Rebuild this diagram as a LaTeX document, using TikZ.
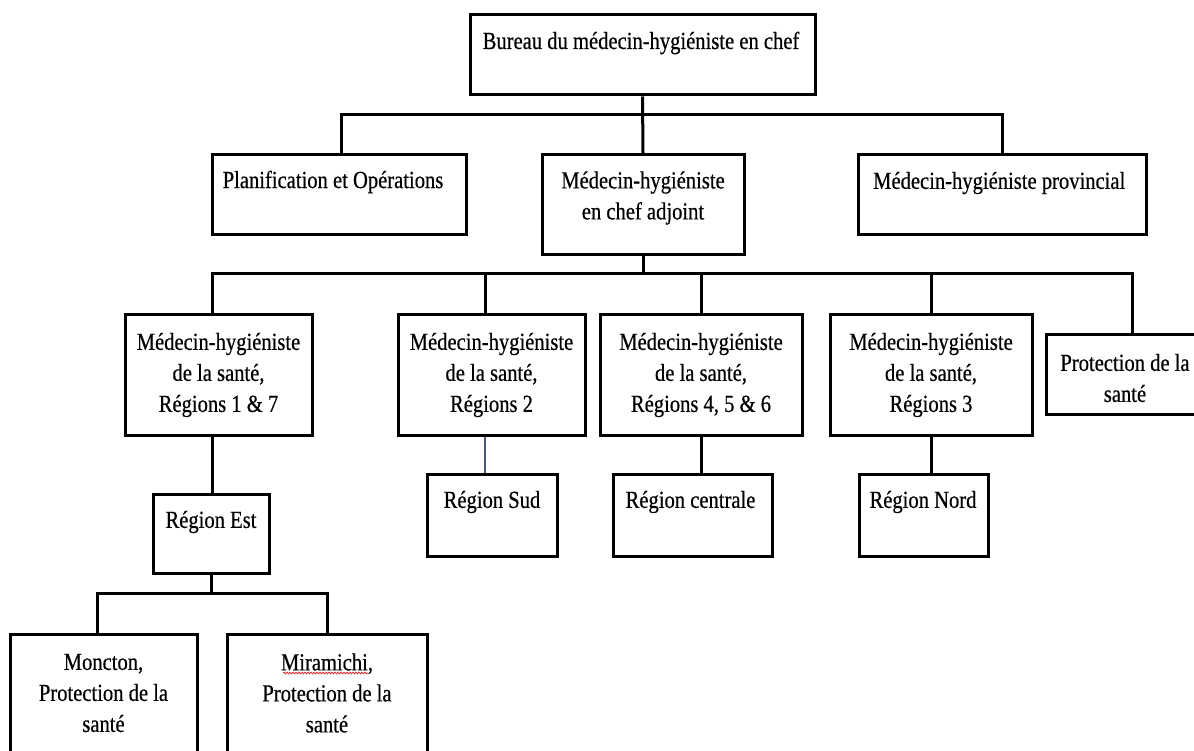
\documentclass[tikz,border=0pt]{standalone}
\usepackage{fontspec}
\setmainfont{Liberation Serif}[FakeStretch=0.84, FakeBold=0.5]
\usetikzlibrary{decorations.pathmorphing}
\definecolor{thinwire}{RGB}{74,90,112}
\definecolor{spellred}{RGB}{220,40,40}
\begin{document}
\begin{tikzpicture}[x=1pt,y=-1pt,
  box/.style={draw=black, line width=3pt, rectangle, inner sep=0pt},
  lbl/.style={font=\fontsize{24.5}{31}\selectfont, align=center, inner sep=0pt},
  wire/.style={line width=3pt, line join=miter}]
\useasboundingbox (0,0) rectangle (1194,751);
\clip (0,0) rectangle (1194,751);
% boxes
\node[box, minimum width=345pt, minimum height=80pt]  (top)  at (642.5,55) {};
\node[box, minimum width=254pt, minimum height=80pt]  (planif) at (339,195) {};
\node[box, minimum width=202pt, minimum height=100pt] (adj) at (643,205) {};
\node[box, minimum width=288pt, minimum height=80pt]  (prov) at (1002,195) {};
\node[box, minimum width=187pt, minimum height=120pt] (r17) at (218.5,375) {};
\node[box, minimum width=187pt, minimum height=120pt] (r2) at (491.5,375) {};
\node[box, minimum width=202pt, minimum height=120pt] (r456) at (701,375) {};
\node[box, minimum width=202pt, minimum height=120pt] (r3) at (931,375) {};
\node[box, minimum width=158pt, minimum height=80pt]  (prot) at (1125,374) {};
\node[box, minimum width=116pt, minimum height=79pt]  (est) at (211,533.5) {};
\node[box, minimum width=130pt, minimum height=82pt]  (sud) at (492,515) {};
\node[box, minimum width=159pt, minimum height=82pt]  (cent) at (692.5,515) {};
\node[box, minimum width=129pt, minimum height=82pt]  (nord) at (923.5,515) {};
\node[box, minimum width=187pt, minimum height=146pt] (monc) at (103.5,707) {};
\node[box, minimum width=200pt, minimum height=146pt] (mira) at (327,707) {};
% bus levels
\coordinate (b1) at (0,115);
\coordinate (b2) at (0,274);
\coordinate (b3) at (0,593);
% connectors
\draw[wire] (top.south) -- (adj.north);
\draw[wire] ([xshift=2pt]planif.north) -- ([xshift=2pt]planif.north |- b1) -- (prov.north |- b1) -- (prov.north);
\draw[wire] (adj.south) -- (adj.south |- b2);
\draw[wire] ([xshift=-6.5pt]r17.north) -- ([xshift=-6.5pt]r17.north |- b2) -- ([xshift=7pt]prot.north |- b2) -- ([xshift=7pt]prot.north);
\draw[wire] ([xshift=-6.5pt]r2.north) -- ([xshift=-6.5pt]r2.north |- b2);
\draw[wire] (r456.north) -- (r456.north |- b2);
\draw[wire] (r3.north) -- (r3.north |- b2);
\draw[wire] ([xshift=-6.5pt]r17.south) -- ([xshift=-6.5pt]r17.south |- est.north);
\draw[line width=1.5pt, thinwire] ([xshift=-6.5pt]r2.south) -- ([xshift=-6.5pt]r2.south |- sud.north);
\draw[wire] (r456.south) -- (r456.south |- cent.north);
\draw[wire] (r3.south) -- (r3.south |- nord.north);
\draw[wire] (est.south) -- (est.south |- b3);
\draw[wire] ([xshift=-6.5pt]monc.north) -- ([xshift=-6.5pt]monc.north |- b3) -- (mira.north |- b3) -- (mira.north);
% texts
\node[lbl] (t-top) at (641,43) {Bureau du médecin-hygiéniste en chef};
\node[lbl] (t-planif) at (333,182) {Planification et Opérations};
\node[lbl] (t-adj) at (643,198) {Médecin-hygiéniste\\en chef adjoint};
\node[lbl, anchor=west] (t-prov) at (873,183) {Médecin-hygiéniste provincial};
\node[lbl] (t-r17) at (218.5,375) {Médecin-hygiéniste\\de la santé,\\Régions 1 \& 7};
\node[lbl] (t-r2) at (491.5,375) {Médecin-hygiéniste\\de la santé,\\Régions 2};
\node[lbl] (t-r456) at (701,375) {Médecin-hygiéniste\\de la santé,\\Régions 4, 5 \& 6};
\node[lbl] (t-r3) at (931,375) {Médecin-hygiéniste\\de la santé,\\Régions 3};
\node[lbl] (t-prot) at (1125,378) {Protection de la\\santé};
\node[lbl] (t-est) at (211,522) {Région Est};
\node[lbl] (t-sud) at (492,502) {Région Sud};
\node[lbl] (t-cent) at (690.5,502) {Région centrale};
\node[lbl] (t-nord) at (923,502) {Région Nord};
\node[lbl] (t-monc) at (103.5,693) {Moncton,\\Protection de la\\santé};
\node[lbl] (t-mira) at (327,693) {Miramichi,\\Protection de la\\santé};
\draw[spellred, line width=0.8pt, decorate, decoration={snake, segment length=3pt, amplitude=0.8pt}]
  (283,673) -- (368,673);
\end{tikzpicture}
\end{document}
